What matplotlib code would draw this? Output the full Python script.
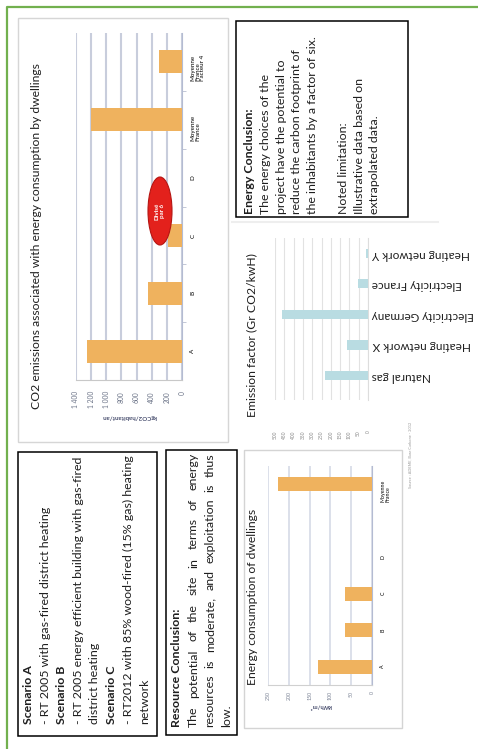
import matplotlib
matplotlib.use('Agg')
import matplotlib.pyplot as plt
from matplotlib.patches import Rectangle, Ellipse

plt.rcParams['font.family'] = ['Lato', 'DejaVu Sans']

# CO2 emissions per dwelling scenario (kgCO2/habitant/an)
co2_categories = ['A', 'B', 'C', 'D', 'Moyenne\nFrance', 'Moyenne\nFrance\nFacteur 4']
co2_values = [1250, 450, 180, 0, 1200, 300]
co2_ticks = [0, 200, 400, 600, 800, 1000, 1200, 1400]
co2_tick_labels = ['0', '200', '400', '600', '800', '1 000', '1 200', '1 400']

# emission factors (g CO2/kWh)
emission_categories = ['Natural gas', 'Heating network X', 'Electricity Germany',
                       'Electricity France', 'Heating network Y']
emission_values = [230, 115, 460, 55, 10]
emission_ticks = [0, 50, 100, 150, 200, 250, 300, 350, 400, 450, 500]

# energy consumption (kWh/m2)
energy_categories = ['A', 'B', 'C', 'D', '', 'Moyenne\nFrance']
energy_values = [130, 65, 65, 0, 0, 225]
energy_ticks = [0, 50, 100, 150, 200, 250]

scenario_lines = [('Scenario A', True),
                  ('- RT 2005 with gas-fired district heating', False),
                  ('Scenario B', True),
                  ('- RT 2005 energy efficient building with gas-fired', False),
                  ('district heating', False),
                  ('Scenario C', True),
                  ('- RT2012 with 85% wood-fired (15% gas) heating', False),
                  ('network', False)]
resource_title = 'Resource Conclusion:'
resource_lines = ['The potential of the site in terms of energy',
                  'resources is moderate, and exploitation is thus',
                  'low.']
energy_lines = [('Energy Conclusion:', True),
                ('The energy choices of the', False),
                ('project have the potential to', False),
                ('reduce the carbon footprint of', False),
                ('the inhabitants by a factor of six.', False),
                ('', False),
                ('Noted limitation:', False),
                ('Illustrative data based on', False),
                ('extrapolated data.', False)]

W, H = 478, 749
fig = plt.figure(figsize=(W / 100, H / 100), dpi=100)
fig.patch.set_facecolor('white')

page = fig.add_axes([0, 0, 1, 1], zorder=0)
page.set_xlim(0, W)
page.set_ylim(H, 0)
page.axis('off')


def box(x0, y0, x1, y1):
    return [x0 / W, 1 - y1 / H, (x1 - x0) / W, (y1 - y0) / H]


ink = '#1e1e1e'
orange = '#efb25e'
body = 8.9

# green frame of the page
page.plot([7, 7, W + 2], [H + 2, 7, 7], color='#72b04e', lw=1.6, solid_capstyle='butt')

# chart panels
page.add_patch(Rectangle((18, 18), 210, 424, fc='white', ec='#d6d6d6', lw=1.0))
page.plot([232, 438], [222, 222], color='#eeeeee', lw=1.5)
page.add_patch(Rectangle((244, 450), 158, 278, fc='white', ec='#d4d4d4', lw=1.0))

# ---- CO2 chart
ax1 = fig.add_axes(box(76, 33, 182, 380), zorder=1)
ax1.patch.set_alpha(0)
ax1.barh(range(len(co2_values)), co2_values, height=0.4, color=orange, zorder=3)
ax1.set_xlim(1400, 0)
ax1.set_ylim(-0.5, len(co2_values) - 0.5)
ax1.set_xticks(co2_ticks)
ax1.set_xticklabels(co2_tick_labels, rotation=90, fontsize=4.8, color='#6c7488')
ax1.set_yticks(range(len(co2_categories)))
ax1.set_yticklabels(co2_categories, rotation=90, fontsize=4.5, linespacing=1.0)
for i, lab in enumerate(ax1.get_yticklabels()):
    lab.set_color('#3d4a9c' if i >= 4 else '#8a90a0')
    lab.set_multialignment('center')
ax1.yaxis.tick_right()
ax1.set_yticks([0.5, 1.5, 2.5, 3.5, 4.5], minor=True)
ax1.tick_params(axis='y', which='major', length=0, pad=6)
ax1.tick_params(axis='y', which='minor', length=3, color='#b8bed0')
ax1.tick_params(axis='x', length=0, pad=8)
ax1.grid(axis='x', color='#c8cddc', lw=1.5, zorder=0)
for s in ['left', 'top']:
    ax1.spines[s].set_visible(False)
ax1.spines['right'].set_color('#b4bbd2')
ax1.spines['bottom'].set_color('#c8c8c8')
ax1.set_xlabel('kgCO2/habitant/an', rotation=180, fontsize=4.5, color='#4a5070',
               fontweight='bold', labelpad=4)
page.text(37, 236, 'CO2 emissions associated with energy consumption by dwellings',
          rotation=90, ha='center', va='center', fontsize=8.7, color=ink)

# ---- emission factor chart
ax2 = fig.add_axes(box(275, 238, 368, 400), zorder=1)
ax2.patch.set_alpha(0)
ax2.barh(range(len(emission_values)), emission_values, height=0.3, color='#b9dce2', zorder=3)
ax2.set_xlim(500, 0)
ax2.set_ylim(-0.8, len(emission_values) - 0.5)
ax2.set_xticks(emission_ticks)
ax2.set_xticklabels([str(t) for t in emission_ticks], rotation=90, fontsize=3.5,
                    color='#8a8a8a')
ax2.set_yticks(range(len(emission_categories)))
ax2.set_yticklabels(emission_categories, rotation=180, fontsize=8.5, color=ink)
ax2.yaxis.tick_right()
ax2.tick_params(axis='y', length=0, pad=3)
ax2.tick_params(axis='x', length=0, pad=22)
ax2.grid(axis='x', color='#e2e2e2', lw=0.8, zorder=0)
for s in ['left', 'top', 'bottom']:
    ax2.spines[s].set_visible(False)
ax2.spines['right'].set_color('#dddddd')
page.text(252, 335, 'Emission factor (Gr CO2/kwH)', rotation=90, ha='center',
          va='center', fontsize=8.7, color=ink)
page.text(410, 455, 'Source : ADEME, Base Carbone - 2012', rotation=90, ha='center',
          va='center', fontsize=2.8, color='#9a9a9a')

# ---- energy consumption chart
ax3 = fig.add_axes(box(268, 466, 372, 685), zorder=1)
ax3.patch.set_alpha(0)
ax3.barh(range(len(energy_values)), energy_values, height=0.38, color=orange, zorder=3)
ax3.set_xlim(250, 0)
ax3.set_ylim(-0.5, len(energy_values) - 0.5)
ax3.set_xticks(energy_ticks)
ax3.set_xticklabels([str(t) for t in energy_ticks], rotation=90, fontsize=3.8,
                    color='#7c8496')
ax3.set_yticks(range(len(energy_categories)))
ax3.set_yticklabels(energy_categories, rotation=90, fontsize=3.8, linespacing=1.0)
for i, lab in enumerate(ax3.get_yticklabels()):
    lab.set_color('#3d4a9c' if i == 5 else '#8a90a0')
    lab.set_multialignment('center')
ax3.yaxis.tick_right()
ax3.tick_params(axis='y', length=0, pad=6)
ax3.tick_params(axis='x', length=0, pad=4)
ax3.grid(axis='x', color='#d6dae6', lw=1.2, zorder=0)
for s in ['left', 'top']:
    ax3.spines[s].set_visible(False)
ax3.spines['right'].set_color('#b4bbd2')
ax3.spines['bottom'].set_color('#d0d0d0')
ax3.set_xlabel('kWh/m²', rotation=180, fontsize=4.2, color='#4a5070',
               fontweight='bold', labelpad=3)
page.text(252, 597, 'Energy consumption of dwellings', rotation=90, ha='center',
          va='center', fontsize=8.7, color=ink)

# ---- text boxes
page.add_patch(Rectangle((18, 452), 139, 284, fc='white', ec='black', lw=1.1))
page.add_patch(Rectangle((166, 450), 71, 285, fc='white', ec='black', lw=1.1))
page.add_patch(Rectangle((236, 21), 172, 196, fc='white', ec='black', lw=1.1))

for i, (txt, bold) in enumerate(scenario_lines):
    page.text(29 + i * 16.5, 724, txt, rotation=90, ha='center', va='bottom',
              fontsize=body, color=ink, fontweight='bold' if bold else 'normal')

for i, (txt, bold) in enumerate(energy_lines):
    page.text(250 + i * 15.6, 214, txt, rotation=90, ha='center', va='bottom',
              fontsize=body, color=ink, fontweight='bold' if bold else 'normal')

page.text(177, 727, resource_title, rotation=90, ha='center', va='bottom',
          fontsize=body, color=ink, fontweight='bold')

renderer = fig.canvas.get_renderer()


def justified(x, y_start, y_end, line):
    words = line.split()
    arts = [page.text(x, y_start, w, rotation=90, ha='center', va='bottom',
                      fontsize=body, color=ink) for w in words]
    lens = [a.get_window_extent(renderer).height for a in arts]
    gap = ((y_start - y_end) - sum(lens)) / (len(words) - 1)
    pos = y_start
    for a, n in zip(arts, lens):
        a.set_y(pos)
        pos -= n + gap


justified(193.5, 727, 453, resource_lines[0])
justified(210, 727, 453, resource_lines[1])
page.text(226.5, 727, resource_lines[2], rotation=90, ha='center', va='bottom',
          fontsize=body, color=ink)

# red callout on the CO2 chart
front = fig.add_axes([0, 0, 1, 1], zorder=5)
front.set_xlim(0, W)
front.set_ylim(H, 0)
front.axis('off')
front.patch.set_alpha(0)
front.add_patch(Ellipse((160, 211), 24, 68, fc='#e3211c', ec='#b51512', lw=0.8))
front.text(160, 211, 'Divisé\npar 6', rotation=90, ha='center', va='center',
           fontsize=4.5, color='white', fontweight='bold', linespacing=1.0)

fig.savefig('out.png', dpi=100)
